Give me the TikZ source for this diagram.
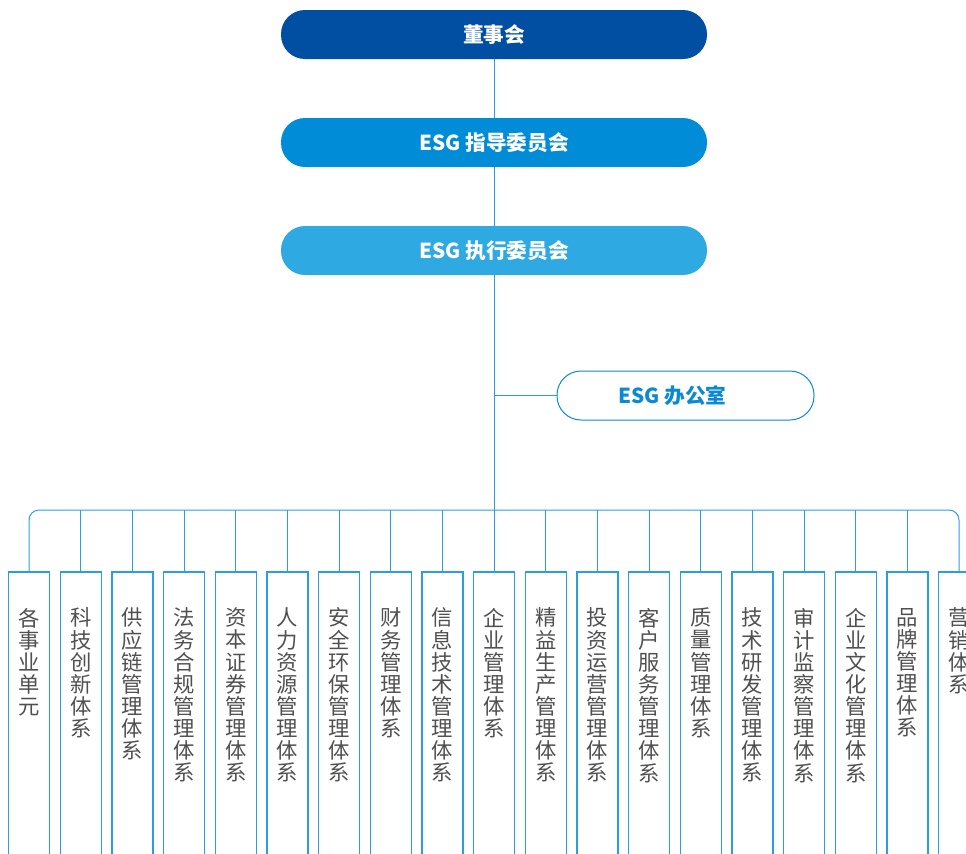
\documentclass[tikz,border=0pt]{standalone}
\usepackage{fontspec}
\setmainfont{Noto Sans CJK SC}
\usetikzlibrary{positioning}
\definecolor{boardblue}{HTML}{004FA2}
\definecolor{steerblue}{HTML}{008CD6}
\definecolor{execblue}{HTML}{2EA9E1}
\definecolor{lineblue}{HTML}{2A9FE0}
\definecolor{officeblue}{HTML}{0A8AD2}
\definecolor{textgray}{HTML}{505050}
\tikzset{
  every node/.style={outer sep=0mm,inner sep=0mm}
}
\tikzset{pill/.style={
    fill=#1,
    rounded corners=18pt,
    minimum width=319.5pt,
    minimum height=36.75pt,
    text=white,
    font=\fontsize{15.5}{18}\selectfont\bfseries
  },
  pill/.default=steerblue}
\tikzset{office/.style={
    draw=officeblue,
    fill=white,
    line width=0.75pt,
    rounded corners=18pt,
    minimum width=192.75pt,
    minimum height=36.75pt,
    text=officeblue,
    font=\fontsize{15.5}{18}\selectfont\bfseries
  }}
\tikzset{unitbox/.style={
    draw=lineblue,
    fill=white,
    line width=1pt,
    anchor=north,
    minimum width=30.75pt,
    minimum height=240pt
  }}
\tikzset{unittext/.style={
    text=textgray,
    align=center,
    font=\fontsize{16}{16.6}\selectfont
  }}
\tikzset{link/.style={draw=lineblue,line width=0.75pt}}

\begin{document}
\begin{tikzpicture}[x=0.75pt,y=-0.75pt]
  \useasboundingbox (0,0) rectangle (966,853);
  \clip (0,0) rectangle (966,853);

  \node (Board) [pill=boardblue] at (494,34.5) {董事会};
  \node (Steer_Comm) [pill=steerblue,below=44.25pt of Board] {ESG 指导委员会};
  \node (Exec_Comm) [pill=execblue,below=44.25pt of Steer_Comm] {ESG 执行委员会};
  \node (ESG_Office) [office] at (685.5,395.5) {ESG 办公室\hspace*{19.5pt}};
  \coordinate (Bus) at (494,510);

  \foreach \name [count=\i] in {
    {各\\事\\业\\单\\元},{科\\技\\创\\新\\体\\系},{供\\应\\链\\管\\理\\体\\系},
    {法\\务\\合\\规\\管\\理\\体\\系},{资\\本\\证\\券\\管\\理\\体\\系},
    {人\\力\\资\\源\\管\\理\\体\\系},{安\\全\\环\\保\\管\\理\\体\\系},
    {财\\务\\管\\理\\体\\系},{信\\息\\技\\术\\管\\理\\体\\系},
    {企\\业\\管\\理\\体\\系},{精\\益\\生\\产\\管\\理\\体\\系},
    {投\\资\\运\\营\\管\\理\\体\\系},{客\\户\\服\\务\\管\\理\\体\\系},
    {质\\量\\管\\理\\体\\系},{技\\术\\研\\发\\管\\理\\体\\系},
    {审\\计\\监\\察\\管\\理\\体\\系},{企\\业\\文\\化\\管\\理\\体\\系},
    {品\\牌\\管\\理\\体\\系},{营\\销\\体\\系}} {
    \node (Unit_\i) [unitbox] at ({29+(\i-1)*51.667},572) {};
    \node (Unit_text_\i) [unittext,below=27pt of Unit_\i.north,anchor=north] {\name};
  }

  \draw [link] (Board) -- (Steer_Comm);
  \draw [link] (Steer_Comm) -- (Exec_Comm);
  \draw [link] (Exec_Comm) -- (Bus);
  \draw [link] (Exec_Comm.south |- ESG_Office.west) -- (ESG_Office.west);
  \draw [link,rounded corners=7.5pt] (Unit_1.north) |- (Bus) -| (Unit_19.north);
  \foreach \i in {2,...,18}
    \draw [link] (Unit_\i.north) -- (Unit_\i.north |- Bus);
\end{tikzpicture}
\end{document}
